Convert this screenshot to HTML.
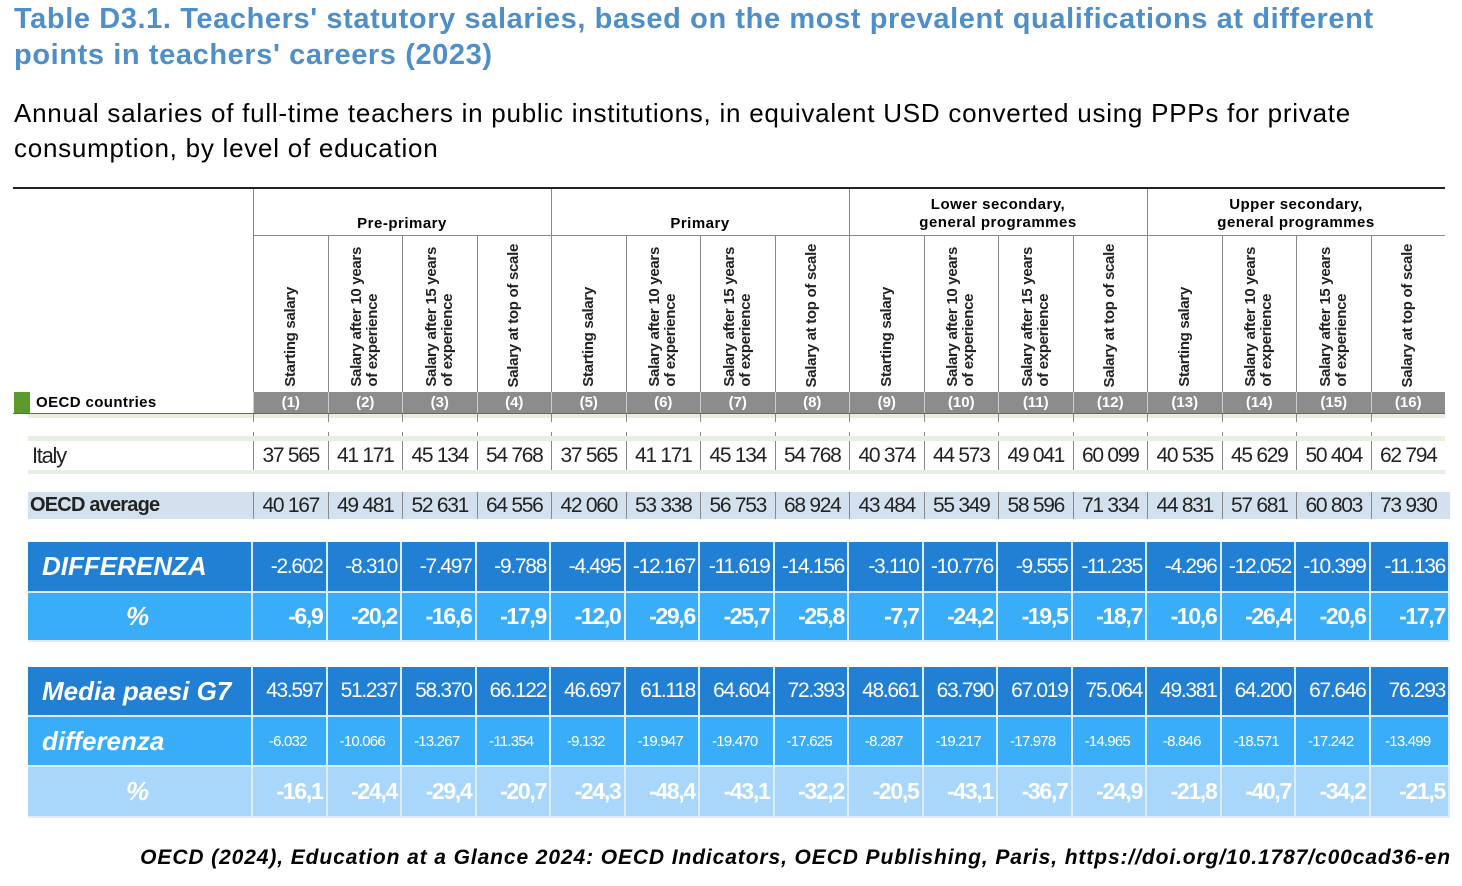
<!DOCTYPE html>
<html><head><meta charset="utf-8"><style>
*{margin:0;padding:0;box-sizing:border-box}
body{width:1462px;height:886px;background:#fff;position:relative;overflow:hidden;font-family:"Liberation Sans",sans-serif}
.a{position:absolute}
.t{color:#4e8fc9;font-weight:bold;font-size:29px;line-height:36px;left:14px;top:1px;letter-spacing:.6px}
.s{font-size:26px;line-height:35px;left:14px;top:96px;color:#000;letter-spacing:.75px}
.row{position:absolute;left:253px;display:grid;grid-template-columns:repeat(16,74.5px)}
.row div{border-left:1px solid #888;display:flex;align-items:center;justify-content:center}
.n{font-size:21px;color:#222;letter-spacing:-1.3px}
.rh div{align-items:flex-end;justify-content:center;padding-bottom:5px}
.rh span{writing-mode:vertical-rl;transform:rotate(180deg);font-size:15px;font-weight:bold;color:#222;line-height:16px;text-align:left;white-space:nowrap;letter-spacing:-.3px}
.b{position:absolute;left:28px;width:1422px;display:grid;grid-template-columns:225px repeat(15,74.5px) 79.5px;color:#fff}
.b div{border-right:2px solid #dbeefd;border-bottom:2px solid #dbeefd;display:flex;align-items:center;justify-content:flex-end;padding-right:3px;letter-spacing:-1.3px}
.b div:first-child{justify-content:flex-start;padding-left:14px;font-style:italic;font-weight:bold;font-size:26px;letter-spacing:0}
.d1{background:#2180d4}.d2{background:#39adf7}.d3{background:#a9d6fb}
</style></head><body>
<div class="a t">Table D3.1. Teachers' statutory salaries, based on the most prevalent qualifications at different<br>points in teachers' careers (2023)</div>
<div class="a s">Annual salaries of full-time teachers in public institutions, in equivalent USD converted using PPPs for private<br>consumption, by level of education</div>
<div class="a" style="left:13px;top:187px;width:1432px;height:2px;background:#222"></div>
<div class="a" style="left:253px;top:189px;width:1px;height:47px;background:#888"></div>
<div class="a" style="left:551px;top:189px;width:1px;height:47px;background:#888"></div>
<div class="a" style="left:849px;top:189px;width:1px;height:47px;background:#888"></div>
<div class="a" style="left:1147px;top:189px;width:1px;height:47px;background:#888"></div>
<div class="a" style="left:253px;top:235px;width:1192px;height:1px;background:#888"></div>
<div class="a" style="left:253px;top:196px;width:298px;height:40px;display:flex;align-items:flex-end;justify-content:center;padding-bottom:4px;font-size:15px;font-weight:bold;letter-spacing:.5px">Pre-primary</div>
<div class="a" style="left:551px;top:196px;width:298px;height:40px;display:flex;align-items:flex-end;justify-content:center;padding-bottom:4px;font-size:15px;font-weight:bold;letter-spacing:.5px">Primary</div>
<div class="a" style="left:849px;top:196px;width:298px;height:40px;text-align:center;font-size:15px;font-weight:bold;line-height:18px;letter-spacing:.5px">Lower secondary,<br>general programmes</div>
<div class="a" style="left:1147px;top:196px;width:298px;height:40px;text-align:center;font-size:15px;font-weight:bold;line-height:18px;letter-spacing:.5px">Upper secondary,<br>general programmes</div>
<div class="row rh" style="top:236px;height:156px">
<div><span>Starting salary</span></div><div><span>Salary after 10 years<br>of experience</span></div><div><span>Salary after 15 years<br>of experience</span></div><div><span>Salary at top of scale</span></div>
<div><span>Starting salary</span></div><div><span>Salary after 10 years<br>of experience</span></div><div><span>Salary after 15 years<br>of experience</span></div><div><span>Salary at top of scale</span></div>
<div><span>Starting salary</span></div><div><span>Salary after 10 years<br>of experience</span></div><div><span>Salary after 15 years<br>of experience</span></div><div><span>Salary at top of scale</span></div>
<div><span>Starting salary</span></div><div><span>Salary after 10 years<br>of experience</span></div><div><span>Salary after 15 years<br>of experience</span></div><div><span>Salary at top of scale</span></div>
</div>
<div class="a" style="left:14px;top:392px;width:16px;height:21px;background:#5a9a2e"></div>
<div class="a" style="left:36px;top:392px;height:21px;line-height:21px;font-size:15px;font-weight:bold;letter-spacing:.4px">OECD countries</div>
<div class="a" style="left:253px;top:392px;width:1192px;height:21px;background:#8c8c8c"></div>
<div class="row" style="top:392px;height:21px;color:#fff;font-weight:bold;font-size:15px">
<div style="border-color:#ccc">(1)</div><div style="border-color:#ccc">(2)</div><div style="border-color:#ccc">(3)</div><div style="border-color:#ccc">(4)</div><div style="border-color:#ccc">(5)</div><div style="border-color:#ccc">(6)</div><div style="border-color:#ccc">(7)</div><div style="border-color:#ccc">(8)</div><div style="border-color:#ccc">(9)</div><div style="border-color:#ccc">(10)</div><div style="border-color:#ccc">(11)</div><div style="border-color:#ccc">(12)</div><div style="border-color:#ccc">(13)</div><div style="border-color:#ccc">(14)</div><div style="border-color:#ccc">(15)</div><div style="border-color:#ccc">(16)</div></div>
<div class="a" style="left:13px;top:413px;width:1432px;height:1px;background:#666"></div>
<div class="a" style="left:28px;top:414px;width:1417px;height:4px;background:#e6efe0"></div>
<div class="row" style="top:414px;height:8px"><div></div><div></div><div></div><div></div><div></div><div></div><div></div><div></div><div></div><div></div><div></div><div></div><div></div><div></div><div></div><div></div></div>
<div class="row" style="top:432px;height:9px"><div></div><div></div><div></div><div></div><div></div><div></div><div></div><div></div><div></div><div></div><div></div><div></div><div></div><div></div><div></div><div></div></div>
<div class="a" style="left:28px;top:436px;width:1417px;height:5px;background:#e6efe0"></div>
<div class="a" style="left:28px;top:470px;width:1417px;height:4px;background:#e6efe0"></div>
<div class="a n" style="left:32px;top:441px;height:29px;line-height:29px;font-size:22px">Italy</div>
<div class="row n" style="top:441px;height:29px">
<div>37 565</div><div>41 171</div><div>45 134</div><div>54 768</div><div>37 565</div><div>41 171</div><div>45 134</div><div>54 768</div><div>40 374</div><div>44 573</div><div>49 041</div><div>60 099</div><div>40 535</div><div>45 629</div><div>50 404</div><div>62 794</div></div>
<div class="a" style="left:28px;top:492px;width:1422px;height:27px;background:#d3e1ee"></div>
<div class="a n" style="left:30px;top:492px;height:27px;line-height:27px;font-size:20px;font-weight:bold;letter-spacing:-.8px">OECD average</div>
<div class="row n" style="top:492px;height:27px">
<div>40 167</div><div>49 481</div><div>52 631</div><div>64 556</div><div>42 060</div><div>53 338</div><div>56 753</div><div>68 924</div><div>43 484</div><div>55 349</div><div>58 596</div><div>71 334</div><div>44 831</div><div>57 681</div><div>60 803</div><div>73 930</div></div>

<div class="b d1" style="top:542px;height:51px;font-size:21px">
<div>DIFFERENZA</div><div>-2.602</div><div>-8.310</div><div>-7.497</div><div>-9.788</div><div>-4.495</div><div>-12.167</div><div>-11.619</div><div>-14.156</div><div>-3.110</div><div>-10.776</div><div>-9.555</div><div>-11.235</div><div>-4.296</div><div>-12.052</div><div>-10.399</div><div>-11.136</div></div>
<div class="b d2" style="top:593px;height:49px;font-size:23px;font-weight:bold">
<div style="padding-left:98px">%</div><div>-6,9</div><div>-20,2</div><div>-16,6</div><div>-17,9</div><div>-12,0</div><div>-29,6</div><div>-25,7</div><div>-25,8</div><div>-7,7</div><div>-24,2</div><div>-19,5</div><div>-18,7</div><div>-10,6</div><div>-26,4</div><div>-20,6</div><div>-17,7</div></div>

<div class="b d1" style="top:667px;height:50px;font-size:21px">
<div>Media paesi G7</div><div>43.597</div><div>51.237</div><div>58.370</div><div>66.122</div><div>46.697</div><div>61.118</div><div>64.604</div><div>72.393</div><div>48.661</div><div>63.790</div><div>67.019</div><div>75.064</div><div>49.381</div><div>64.200</div><div>67.646</div><div>76.293</div></div>
<div class="b d2" style="top:717px;height:50px;font-size:15px">
<div>differenza</div><div style="justify-content:center;letter-spacing:-.8px">-6.032</div><div style="justify-content:center;letter-spacing:-.8px">-10.066</div><div style="justify-content:center;letter-spacing:-.8px">-13.267</div><div style="justify-content:center;letter-spacing:-.8px">-11.354</div><div style="justify-content:center;letter-spacing:-.8px">-9.132</div><div style="justify-content:center;letter-spacing:-.8px">-19.947</div><div style="justify-content:center;letter-spacing:-.8px">-19.470</div><div style="justify-content:center;letter-spacing:-.8px">-17.625</div><div style="justify-content:center;letter-spacing:-.8px">-8.287</div><div style="justify-content:center;letter-spacing:-.8px">-19.217</div><div style="justify-content:center;letter-spacing:-.8px">-17.978</div><div style="justify-content:center;letter-spacing:-.8px">-14.965</div><div style="justify-content:center;letter-spacing:-.8px">-8.846</div><div style="justify-content:center;letter-spacing:-.8px">-18.571</div><div style="justify-content:center;letter-spacing:-.8px">-17.242</div><div style="justify-content:center;letter-spacing:-.8px">-13.499</div></div>
<div class="b d3" style="top:767px;height:51px;font-size:23px;font-weight:bold">
<div style="padding-left:98px">%</div><div>-16,1</div><div>-24,4</div><div>-29,4</div><div>-20,7</div><div>-24,3</div><div>-48,4</div><div>-43,1</div><div>-32,2</div><div>-20,5</div><div>-43,1</div><div>-36,7</div><div>-24,9</div><div>-21,8</div><div>-40,7</div><div>-34,2</div><div>-21,5</div></div>

<div class="a" style="right:11px;top:846px;font-size:21px;font-style:italic;font-weight:bold;white-space:nowrap;letter-spacing:.9px">OECD (2024), Education at a Glance 2024: OECD Indicators, OECD Publishing, Paris, https://doi.org/10.1787/c00cad36-en</div>
</body></html>
